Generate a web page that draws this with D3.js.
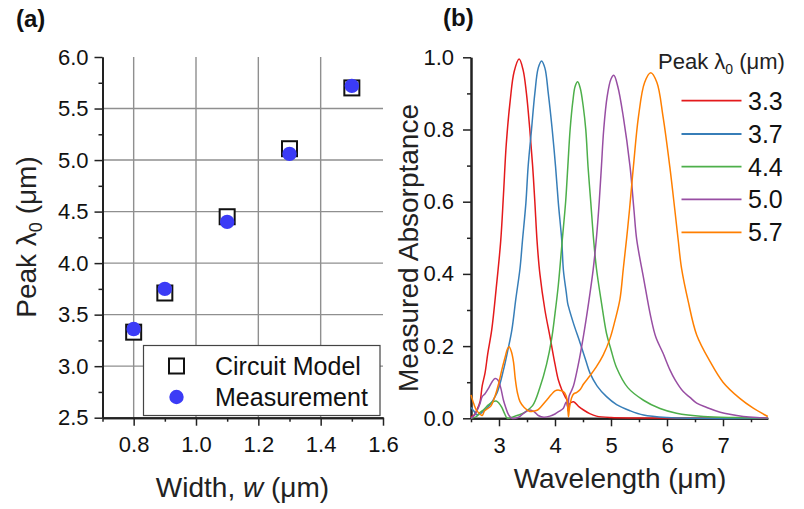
<!DOCTYPE html>
<html>
<head>
<meta charset="utf-8">
<script src="https://cdn.jsdelivr.net/npm/d3@7"></script>
<style>
  html, body { margin: 0; padding: 0; background: #fff; }
  svg { display: block; font-family: "Liberation Sans", Arial, sans-serif; }
</style>
</head>
<body>
<svg id="fig" width="804" height="509"></svg>
<script>
// ---------- Panel (a): peak wavelength vs. width ----------
const widths = [0.8, 0.9, 1.1, 1.3, 1.5];
const circuitModel = [3.33, 3.71, 4.45, 5.11, 5.70];
const measurement = [3.36, 3.75, 4.40, 5.06, 5.72];
const aXTicks = [0.8, 1.0, 1.2, 1.4, 1.6];
const aXMinor = [0.7, 0.9, 1.1, 1.3, 1.5];
const aYTicks = [2.5, 3.0, 3.5, 4.0, 4.5, 5.0, 5.5, 6.0];
const aYMinor = [2.75, 3.25, 3.75, 4.25, 4.75, 5.25, 5.75];
const aXGrid = [0.8, 1.0, 1.2, 1.4];
const aYGrid = [3.0, 3.5, 4.0, 4.5, 5.0, 5.5];

// ---------- Panel (b): measured absorptance spectra ----------
const peakLabels = ["3.3", "3.7", "4.4", "5.0", "5.7"];
const seriesColors = ["#e41a1c", "#377eb8", "#4daf4a", "#984ea3", "#ff7f00"];
const bXTicks = [3, 4, 5, 6, 7];
const bXMinor = [2.5, 3.5, 4.5, 5.5, 6.5, 7.5];
const bYTicks = [0, 0.2, 0.4, 0.6, 0.8, 1.0];
const bYMinor = [0.1, 0.3, 0.5, 0.7, 0.9];

// [wavelength (um), absorptance]
const spec33 = [[2.5,0.004],[2.56,0.01],[2.61,0.025],[2.66,0.045],[2.70,0.09],[2.75,0.125],[2.80,0.18],[2.87,0.245],
  [2.95,0.36],[3.03,0.49],[3.08,0.62],[3.13,0.76],[3.20,0.88],[3.27,0.96],[3.36,0.995],[3.43,0.965],
  [3.49,0.90],[3.55,0.80],[3.60,0.70],[3.64,0.60],[3.68,0.49],[3.73,0.40],[3.82,0.30],[3.91,0.226],[4.00,0.15],
  [4.06,0.106],[4.12,0.08],[4.18,0.06],[4.215,0.05],[4.235,0.02],[4.26,0.04],[4.33,0.046],[4.42,0.033],[4.51,0.023],
  [4.62,0.013],[4.74,0.006],[5.0,0.002],[5.5,0.001],[7.8,0.0]];
const spec37 = [[2.5,0.03],[2.55,0.02],[2.6,0.01],[2.66,0.012],[2.72,0.02],[2.81,0.032],[2.96,0.069],[3.08,0.134],
  [3.16,0.19],[3.23,0.245],[3.30,0.33],[3.375,0.415],[3.42,0.494],[3.48,0.596],[3.52,0.697],
  [3.58,0.799],[3.64,0.90],[3.70,0.97],[3.76,0.99],[3.82,0.97],[3.88,0.90],[3.95,0.80],[4.01,0.697],[4.06,0.596],
  [4.12,0.494],[4.15,0.41],[4.20,0.35],[4.225,0.32],[4.24,0.31],[4.33,0.263],[4.45,0.208],[4.55,0.16],
  [4.625,0.125],[4.75,0.09],[4.92,0.06],[5.1,0.038],[5.34,0.021],[5.58,0.009],[6.0,0.002],[6.5,0.0],[7.8,0.0]];
const spec44 = [[2.5,0.0],[2.6,0.005],[2.65,0.015],[2.72,0.023],[2.81,0.037],[2.88,0.045],[2.95,0.048],[3.0,0.042],
  [3.05,0.03],[3.10,0.013],[3.15,0.0],[3.25,0.004],[3.35,0.009],[3.45,0.016],[3.6,0.035],[3.73,0.085],
  [3.85,0.15],[3.94,0.22],[4.0,0.29],[4.06,0.37],[4.13,0.494],[4.19,0.60],[4.23,0.70],[4.27,0.80],
  [4.32,0.88],[4.36,0.92],[4.405,0.932],[4.45,0.915],[4.505,0.863],[4.55,0.799],[4.59,0.697],[4.64,0.596],
  [4.69,0.494],[4.74,0.415],[4.83,0.32],[4.92,0.235],[5.0,0.19],[5.10,0.14],[5.30,0.085],[5.58,0.05],
  [5.875,0.027],[6.17,0.014],[6.65,0.005],[7.2,0.002],[7.8,0.001]];
const spec50 = [[2.5,0.0],[2.57,0.01],[2.62,0.025],[2.66,0.04],[2.70,0.06],[2.75,0.068],[2.82,0.085],[2.88,0.102],
  [2.93,0.11],[2.98,0.106],[3.03,0.085],[3.08,0.05],[3.12,0.03],[3.17,0.01],[3.23,0.0],[3.35,0.003],
  [3.45,0.015],[3.55,0.023],[3.63,0.018],[3.71,0.007],[3.80,0.003],[3.91,0.006],[4.0,0.012],[4.08,0.02],[4.15,0.028],
  [4.2,0.045],[4.23,0.03],[4.25,0.06],[4.29,0.075],[4.33,0.09],[4.42,0.152],[4.51,0.23],[4.60,0.32],[4.68,0.41],
  [4.74,0.50],[4.79,0.60],[4.83,0.70],[4.87,0.80],[4.93,0.89],[5.0,0.94],[5.05,0.95],[5.12,0.92],[5.22,0.835],
  [5.34,0.697],[5.41,0.577],[5.46,0.494],[5.58,0.39],[5.71,0.281],[5.80,0.225],[5.93,0.18],[6.05,0.135],
  [6.15,0.105],[6.29,0.074],[6.41,0.058],[6.53,0.042],[6.71,0.03],[6.95,0.017],[7.12,0.011],[7.36,0.005],
  [7.6,0.002],[7.8,0.001]];
const spec57 = [[2.5,0.065],[2.55,0.04],[2.6,0.022],[2.66,0.012],[2.7,0.008],[2.74,0.02],[2.78,0.025],[2.85,0.033],
  [2.93,0.062],[3.0,0.1],[3.05,0.134],[3.11,0.17],[3.15,0.192],[3.18,0.198],[3.22,0.185],[3.26,0.155],[3.29,0.11],
  [3.33,0.07],[3.375,0.046],[3.45,0.03],[3.55,0.019],[3.62,0.02],[3.69,0.023],[3.75,0.032],[3.85,0.05],
  [3.93,0.065],[4.0,0.076],[4.07,0.078],[4.15,0.074],[4.2,0.062],[4.225,0.04],[4.24,0.004],
  [4.26,0.03],[4.30,0.058],[4.33,0.067],[4.39,0.072],[4.45,0.08],[4.51,0.095],[4.62,0.117],[4.74,0.143],
  [4.86,0.175],[4.98,0.22],[5.07,0.27],[5.16,0.33],[5.22,0.415],[5.28,0.50],[5.33,0.577],
  [5.40,0.697],[5.49,0.835],[5.6,0.93],[5.71,0.957],[5.82,0.93],[5.93,0.835],[6.05,0.697],[6.14,0.577],
  [6.20,0.494],[6.26,0.415],[6.38,0.323],[6.53,0.231],[6.77,0.157],[7.0,0.10],[7.3,0.055],[7.54,0.028],
  [7.8,0.005]];
const spectra = [spec33, spec37, spec44, spec50, spec57];

const svg = d3.select("#fig");
const FONT = "'Liberation Sans', Arial, sans-serif";

// ===== Panel (a) =====
const xA = d3.scaleLinear().domain([0.7, 1.6]).range([102.5, 383]);
const yA = d3.scaleLinear().domain([2.5, 6.0]).range([417.7, 57]);
const gA = svg.append("g");

// grid
gA.selectAll(".vgrid").data(aXGrid).join("line")
  .attr("x1", d => xA(d)).attr("x2", d => xA(d))
  .attr("y1", yA(2.5)).attr("y2", yA(6.0))
  .attr("stroke", "#8f8f8f").attr("stroke-width", 1.4);
gA.selectAll(".hgrid").data(aYGrid).join("line")
  .attr("x1", xA(0.7)).attr("x2", xA(1.6))
  .attr("y1", d => yA(d)).attr("y2", d => yA(d))
  .attr("stroke", "#8f8f8f").attr("stroke-width", 1.4);

function styleAxis(g, size) {
  g.select(".domain").attr("stroke", "#222").attr("stroke-width", 2);
  g.selectAll(".tick line").attr("stroke", "#222").attr("stroke-width", 1.5);
  g.selectAll("text").attr("font-family", FONT).attr("font-size", size).attr("fill", "#111");
}

const axAx = gA.append("g").attr("transform", `translate(0,${yA(2.5)})`)
  .call(d3.axisBottom(xA).tickValues(aXTicks).tickSize(8).tickPadding(11).tickSizeOuter(0).tickFormat(d3.format(".1f")));
styleAxis(axAx, 22);
const axAxm = gA.append("g").attr("transform", `translate(0,${yA(2.5)})`)
  .call(d3.axisBottom(xA).tickValues(aXMinor).tickSize(4).tickSizeOuter(0).tickFormat(""));
styleAxis(axAxm, 22);
const axAy = gA.append("g").attr("transform", `translate(${xA(0.7)},0)`)
  .call(d3.axisLeft(yA).tickValues(aYTicks).tickSize(8).tickPadding(6).tickSizeOuter(0).tickFormat(d3.format(".1f")));
styleAxis(axAy, 22);
const axAym = gA.append("g").attr("transform", `translate(${xA(0.7)},0)`)
  .call(d3.axisLeft(yA).tickValues(aYMinor).tickSize(4).tickSizeOuter(0).tickFormat(""));
styleAxis(axAym, 22);

// markers
const sq = 15;
gA.selectAll(".cm").data(widths).join("rect")
  .attr("x", (d) => xA(d) - sq / 2)
  .attr("y", (d, i) => yA(circuitModel[i]) - sq / 2)
  .attr("width", sq).attr("height", sq)
  .attr("fill", "#fff").attr("stroke", "#111").attr("stroke-width", 2);
gA.selectAll(".ms").data(widths).join("circle")
  .attr("cx", d => xA(d))
  .attr("cy", (d, i) => yA(measurement[i]))
  .attr("r", 7.2).attr("fill", "#3b3bf6");

// legend (a)
const legA = gA.append("g");
legA.append("rect").attr("x", 143.5).attr("y", 345.5).attr("width", 236.5).attr("height", 70)
  .attr("fill", "#fff").attr("stroke", "#444").attr("stroke-width", 1.2);
legA.append("rect").attr("x", 176.5 - sq / 2).attr("y", 366 - sq / 2).attr("width", sq).attr("height", sq)
  .attr("fill", "#fff").attr("stroke", "#111").attr("stroke-width", 2);
legA.append("circle").attr("cx", 176.5).attr("cy", 397).attr("r", 7.2).attr("fill", "#3b3bf6");
legA.append("text").attr("x", 215).attr("y", 375).attr("font-size", 25).attr("font-family", FONT)
  .attr("fill", "#111").text("Circuit Model");
legA.append("text").attr("x", 215).attr("y", 406).attr("font-size", 25).attr("font-family", FONT)
  .attr("fill", "#111").text("Measurement");

// axis titles (a)
const tA = gA.append("text").attr("font-family", FONT).attr("font-size", 28).attr("fill", "#222")
  .attr("text-anchor", "middle").attr("x", 242.5).attr("y", 497);
tA.append("tspan").text("Width, ");
tA.append("tspan").attr("font-style", "italic").text("w");
tA.append("tspan").text(" (\u03bcm)");

const yTA = gA.append("text").attr("font-family", FONT).attr("font-size", 28).attr("fill", "#222")
  .attr("text-anchor", "middle").attr("transform", "translate(36,237) rotate(-90)");
yTA.append("tspan").text("Peak \u03bb");
yTA.append("tspan").attr("font-size", 18).attr("dy", 6).text("0");
yTA.append("tspan").attr("dy", -6).text(" (\u03bcm)");

svg.append("text").attr("x", 16).attr("y", 27).attr("font-family", FONT).attr("font-weight", "bold")
  .attr("font-size", 24).attr("fill", "#111").text("(a)");

// ===== Panel (b) =====
const xB = d3.scaleLinear().domain([2.5, 7.8]).range([471, 767.8]);
const yB = d3.scaleLinear().domain([0, 1]).range([418.3, 57.3]);
const gB = svg.append("g");

const axBx = gB.append("g").attr("transform", `translate(0,${yB(0)})`)
  .call(d3.axisBottom(xB).tickValues(bXTicks).tickSize(8).tickPadding(11).tickSizeOuter(0).tickFormat(d3.format("d")));
styleAxis(axBx, 22);
const axBxm = gB.append("g").attr("transform", `translate(0,${yB(0)})`)
  .call(d3.axisBottom(xB).tickValues(bXMinor).tickSize(4).tickSizeOuter(0).tickFormat(""));
styleAxis(axBxm, 22);
const axBy = gB.append("g").attr("transform", `translate(${xB(2.5)},0)`)
  .call(d3.axisLeft(yB).tickValues(bYTicks).tickSize(8).tickPadding(9).tickSizeOuter(0).tickFormat(d3.format(".1f")));
styleAxis(axBy, 22);
const axBym = gB.append("g").attr("transform", `translate(${xB(2.5)},0)`)
  .call(d3.axisLeft(yB).tickValues(bYMinor).tickSize(4).tickSizeOuter(0).tickFormat(""));
styleAxis(axBym, 22);

const line = d3.line().x(d => xB(d[0])).y(d => yB(Math.max(0, d[1])))
  .curve(d3.curveCatmullRom.alpha(0.5));
gB.selectAll(".spec").data(spectra).join("path")
  .attr("d", line).attr("fill", "none")
  .attr("stroke", (d, i) => seriesColors[i]).attr("stroke-width", 1.5)
  .attr("stroke-linejoin", "round");

// legend (b)
const legB = gB.append("g");
const lt = legB.append("text").attr("x", 658).attr("y", 69).attr("font-family", FONT)
  .attr("font-size", 22).attr("fill", "#222");
lt.append("tspan").text("Peak \u03bb");
lt.append("tspan").attr("font-size", 14).attr("dy", 5).text("0");
lt.append("tspan").attr("dy", -5).text(" (\u03bcm)");
const legY = [100.7, 134, 166.7, 199.3, 232.3];
peakLabels.forEach((lab, i) => {
  legB.append("line").attr("x1", 681.5).attr("x2", 741.5).attr("y1", legY[i]).attr("y2", legY[i])
    .attr("stroke", seriesColors[i]).attr("stroke-width", 1.8);
  legB.append("text").attr("x", 748).attr("y", legY[i] + 9).attr("font-family", FONT)
    .attr("font-size", 25).attr("fill", "#111").text(lab);
});

// axis titles (b)
gB.append("text").attr("font-family", FONT).attr("font-size", 28).attr("fill", "#222")
  .attr("text-anchor", "middle").attr("x", 620).attr("y", 488).text("Wavelength (\u03bcm)");
gB.append("text").attr("font-family", FONT).attr("font-size", 28).attr("fill", "#222")
  .attr("text-anchor", "middle").attr("transform", "translate(418,248) rotate(-90)")
  .text("Measured Absorptance");

svg.append("text").attr("x", 443).attr("y", 26).attr("font-family", FONT).attr("font-weight", "bold")
  .attr("font-size", 24).attr("fill", "#111").text("(b)");
</script>
</body>
</html>
